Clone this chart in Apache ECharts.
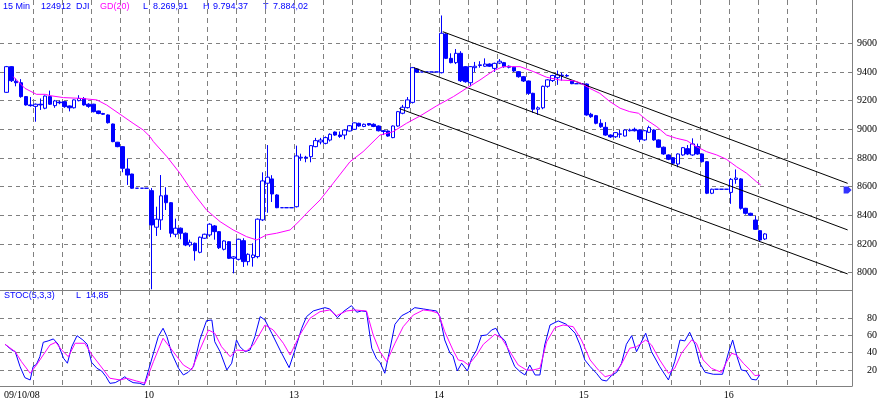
<!DOCTYPE html>
<html><head><meta charset="utf-8">
<script src="https://cdn.jsdelivr.net/npm/echarts@6/dist/echarts.min.js"></script>
<style>html,body{margin:0;padding:0;background:#fff}#c{width:882px;height:404px}</style>
</head><body><div id="c"></div>
<script>
// ---------- DATA ----------
const dayLabels = ['09/10/08', '10', '13', '14', '15', '16'];
const dayStarts = [0, 30, 60, 90, 120, 150];
const timeGrid = [6,12,18,24,30,36,42,48,54,60,66,72,78,84,90,96,102,108,114,120,126,132,138,144,150,156,162,168];
const priceTicks = [8000, 8200, 8400, 8600, 8800, 9000, 9200, 9400, 9600];
const stochTicks = [20, 40, 60, 80];

const opens = [
 9258,9437,9335,9325,9228,9170,9160,9175,9147,9228,9165,9190,9193,9163,9150,9200,9215,9175,9175,9128,9110,9100,9037,8910,8879,8723,8688,8589,8589,8589,
 8572,8317,8368,8540,8488,8268,8310,8275,8193,8205,8142,8240,8263,8326,8286,8163,8216,8100,8093,8223,8077,8105,8112,8368,8624,8654,8542,8453,8453,8453,
 8460,8800,8805,8809,8879,8912,8902,8925,8981,8960,8960,8988,9000,9042,9020,9040,9035,9023,8990,8988,8942,9023,9112,9151,9188,9421,9400,9400,9400,9400,
 9395,9665,9495,9465,9530,9437,9325,9430,9445,9440,9455,9425,9462,9465,9440,9433,9402,9367,9337,9251,9140,9150,9300,9340,9360,9378,9375,9335,9318,9318,
 9316,9105,9095,9042,9014,8960,8948,8965,8953,8990,9000,8995,8926,8979,8995,8926,8875,8821,8802,8758,8821,8865,8821,8880,8828,8774,8554,8582,8582,8582,
 8560,8650,8654,8449,8414,8367,8293,8235
];
const closes = [
 9437,9339,9325,9228,9170,9165,9175,9170,9232,9175,9198,9185,9158,9150,9205,9215,9170,9160,9123,9110,9105,9046,8914,8879,8728,8681,8589,8589,8589,8589,
 8333,8373,8536,8488,8275,8310,8275,8193,8212,8153,8247,8268,8338,8286,8174,8221,8100,8110,8233,8077,8128,8123,8373,8640,8666,8549,8453,8453,8453,8453,
 8814,8805,8800,8886,8921,8925,8942,8965,8960,8950,8995,9025,9045,9023,9035,9030,9020,8990,8985,8953,9023,9123,9154,9205,9430,9398,9400,9400,9400,9400,
 9670,9495,9465,9530,9339,9332,9437,9440,9450,9455,9440,9460,9475,9437,9433,9407,9367,9337,9251,9140,9150,9300,9345,9375,9380,9375,9372,9318,9318,9318,
 9100,9088,9042,9018,8960,8947,8977,8968,8995,8995,8990,8930,8990,9012,8926,8875,8828,8791,8763,8828,8872,8828,8898,8828,8774,8554,8582,8582,8582,8582,
 8651,8660,8449,8414,8400,8302,8228,8270
];
const lows = [
 9255,9330,9300,9220,9165,9158,9053,9135,9140,9170,9150,9175,9150,9125,9145,9195,9165,9150,9118,9105,9100,9040,8910,8875,8700,8612,8585,8589,8589,8589,
 7884,8256,8298,8437,8247,8247,8233,8185,8180,8084,8135,8235,8250,8230,8165,8155,8095,7995,8085,8040,8050,8042,8100,8360,8418,8493,8450,8453,8453,8453,
 8455,8780,8770,8770,8875,8895,8895,8915,8955,8940,8930,8985,8995,9018,9015,9025,9015,8985,8960,8948,8938,9018,9105,9145,9180,9395,9400,9400,9400,9400,
 9390,9490,9460,9455,9330,9325,9300,9400,9430,9435,9435,9400,9455,9430,9425,9400,9360,9330,9240,9115,9100,9140,9290,9330,9310,9340,9365,9315,9318,9318,
 9095,9080,9035,9010,8955,8940,8940,8940,8950,8985,8985,8910,8920,8975,8920,8870,8822,8785,8755,8735,8815,8820,8815,8822,8768,8548,8548,8582,8582,8582,
 8480,8620,8440,8405,8395,8298,8220,8228
];
const highs = [
 9442,9440,9355,9350,9232,9225,9180,9215,9236,9270,9205,9200,9196,9166,9208,9238,9225,9182,9178,9130,9115,9104,9040,8912,8882,8797,8690,8589,8589,8589,
 8590,8460,8681,8596,8492,8377,8315,8280,8230,8210,8252,8272,8345,8332,8290,8226,8220,8115,8237,8240,8135,8205,8378,8700,8890,8680,8548,8453,8453,8453,
 8886,8830,8815,8890,8940,8940,8950,8972,8985,8985,9000,9030,9048,9046,9040,9044,9042,9027,8995,8992,9027,9128,9170,9225,9435,9425,9400,9400,9400,9400,
 9794,9670,9530,9560,9545,9440,9440,9470,9475,9495,9460,9465,9490,9470,9445,9437,9406,9372,9340,9255,9160,9305,9350,9380,9410,9395,9385,9338,9318,9318,
 9320,9115,9100,9070,9050,8965,8980,8995,9000,9005,9012,9000,8995,9025,9000,8930,8880,8825,8806,8832,8876,8890,8937,8900,8832,8778,8586,8582,8582,8582,
 8660,8720,8660,8452,8418,8395,8296,8275
];

// GD(20) moving average, read as [bar, value]
const maPoints = [
 [1.9,9367],[4.3,9286],[6.7,9244],[8.5,9244],[9.5,9235],[12.3,9221],[15.7,9216],[19.2,9205],[21.2,9170],[24.0,9105],[26.7,9042],[28.8,8995],[30.2,8949],[30.9,8914],
 [33.7,8809],[36.4,8693],[39.2,8554],[41.9,8437],[44.7,8356],[47.4,8298],[50.2,8251],[52.3,8228],[54.3,8263],[56.4,8275],[59.2,8298],[61.2,8363],[62.6,8414],
 [65.4,8507],[68.1,8623],[71.6,8774],[74.3,8844],[77.8,8960],[80.5,8983],[83.3,9042],[86.1,9093],[89.5,9163],[93.0,9228],[95.7,9286],[98.5,9344],[101.2,9407],
 [103.3,9437],[106.8,9437],[109.6,9402],[112.3,9363],[115.0,9344],[117.8,9339],[119.2,9325],[121.2,9286],[123.3,9251],[125.4,9193],[127.5,9147],[129.5,9123],
 [131.3,9112],[133.0,9065],[135.1,9018],[137.1,8960],[139.2,8937],[141.3,8921],[143.3,8879],[145.4,8844],[147.5,8821],[149.5,8791],[151.6,8739],[153.7,8693],
 [155.7,8635],[156.6,8612]
];

// trend channel, [bar, price] end points
const channelUpper = [[90.8, 9681], [174.6, 8623]];
const channelMiddle = [[84.8, 9430], [174.6, 8298]];
const channelLower = [[81.8, 9145], [174.6, 7991]];
const lastMarker = [[174.6, 8577]];

// STOC(5,3,3), read as [bar, value]
const stochK = [
 [0.2,49.8],[1.6,43.2],[2.3,41.2],[3.3,23.9],[4.3,11.1],[5.4,8.4],[6.0,23.9],[6.7,26.6],[7.4,35.4],[8.1,52.1],[9.1,53.7],[10.2,56],[11.2,49.8],[12.3,33.6],
 [13.1,27.8],[14.0,47],[15.1,59.8],[16.3,54.8],[17.2,49.8],[18.1,28.9],[19.2,22],[20.2,18.8],[21.1,12.2],[21.9,4.5],[23.0,5.3],[24.0,8.4],[25.0,12.2],[25.7,8.4],
 [26.7,5.3],[28.1,4.5],[29.0,2.6],[29.8,18],[31.0,41.2],[31.9,58.6],[32.9,68.4],[33.7,58.6],[34.7,39.4],[36.1,22],[37.1,14.2],[38.1,17.3],[39.2,23.9],[40.5,54.8],
 [41.9,77.2],[43.0,78],[43.6,52.8],[44.7,41.2],[46.1,20],[47.1,27.8],[48.1,54.8],[48.8,47],[49.9,41.2],[50.9,43.2],[51.9,58.6],[53.0,81.9],[54.0,78],[55.4,62.6],
 [57.1,43.2],[59.0,22.7],[60.2,43.2],[61.6,68.4],[62.6,81.9],[64.0,88.5],[65.4,90.8],[66.4,92.3],[67.4,90.8],[69.0,80.7],[70.2,87.7],[71.9,94.6],[73.0,87],
 [74.0,88.5],[75.0,87.7],[76.1,45.2],[77.1,32.8],[77.8,28.9],[78.8,16.2],[79.9,45.2],[80.9,73],[82.3,83],[83.7,87],[85.0,92.3],[86.8,90.8],[88.1,89.6],[89.5,88.5],
 [90.2,81.9],[91.2,54.8],[92.3,39.4],[92.9,36.6],[93.8,18.8],[94.7,27.8],[95.9,18.8],[96.8,33.6],[97.8,43.2],[98.8,59.8],[99.9,60.6],[100.9,66.4],[101.8,68.4],
 [102.6,59.8],[103.7,53.7],[104.7,37.4],[105.7,23.9],[106.8,18],[107.8,14.2],[108.8,25.8],[109.9,14.2],[110.9,14.2],[111.9,49],[113.0,72.2],[114.7,76.9],
 [116.4,73],[118.2,62.6],[119.2,49],[120.2,31.6],[121.3,23.9],[122.6,16.2],[123.7,8.4],[124.7,7.2],[125.7,13.4],[126.8,17.3],[127.8,27.8],[128.8,49.8],
 [129.9,59.8],[130.9,41.2],[132.8,62.6],[134.0,41.2],[135.7,23.9],[137.5,8.4],[138.8,29.6],[139.9,54.8],[140.9,53.7],[141.9,63.8],[143.0,49.8],[144.0,27.8],
 [145.1,17.3],[146.8,15],[148.7,15],[149.9,39.4],[150.8,54.8],[151.7,35.4],[152.6,20],[153.6,18.8],[154.7,9.2],[155.7,8.4],[156.4,14.2]
];
const stochD = [
 [0.2,49.8],[2.3,41.2],[3.6,29.6],[5.4,16.2],[6.7,25.8],[8.1,37.4],[9.5,49],[10.7,52.1],[11.9,43.2],[13.3,35.4],[14.7,51],[16.7,51],[18.1,38.2],[19.8,25.8],
 [21.9,10.4],[24.0,8.4],[25.4,10.4],[27.4,7.2],[29.2,4.5],[30.9,29.6],[32.9,56.8],[35.0,41.2],[37.1,25.8],[38.8,20],[40.5,43.2],[42.3,66.4],[43.6,62.6],
 [45.0,47],[46.8,35.4],[48.1,43.2],[50.2,42.1],[51.6,49],[54.0,72.2],[55.7,66.4],[57.8,51],[59.2,37.4],[61.2,60.6],[63.3,80],[65.4,87.7],[67.4,89.6],[68.8,83],
 [70.9,88.5],[72.6,89.6],[75.0,88.5],[76.4,60.6],[77.8,41.2],[79.2,29.6],[80.9,51],[82.6,70.2],[84.7,83.8],[86.8,89.6],[88.4,88.5],[89.9,85.8],[91.2,64.5],
 [92.9,43.2],[94.0,31.6],[95.0,30.4],[96.1,25.8],[97.8,37.4],[99.2,49.8],[101.6,61.4],[103.0,56.8],[104.7,41.2],[106.4,25.8],[108.1,20],[109.5,20],[110.9,21.9],
 [112.3,52.8],[114.0,69.1],[115.7,72.2],[117.8,70.2],[119.5,54.8],[121.3,31.6],[123.0,20],[124.4,12.2],[125.7,14.2],[127.5,23.9],[129.5,45.2],[130.9,47],
 [132.8,54.8],[134.0,49],[135.7,31.6],[137.5,16.2],[138.8,21.9],[140.2,39.4],[142.3,54.8],[143.3,51],[144.7,31.6],[146.4,21.9],[148.5,17.3],[149.5,28.9],
 [150.6,39.4],[151.6,37.4],[153.0,27.8],[154.4,20],[155.4,13.4],[156.4,14.2]
];

const headerTexts = ['15 Min', '124912', 'DJI', 'GD(20)', 'L', '8.269,91', 'H', '9.794,37', 'T', '7.884,02'];
const stochTexts = ['STOC(5,3,3)', 'L', '14,85'];

// ---------- LAYOUT / STYLE ----------
const BLUE = '#0000ff', MAG = '#ff00ff', GRIDC = '#808080';
const headerX = [3, 41, 76, 100, 143, 153, 203, 213, 263, 273];
const headerColors = [BLUE, BLUE, BLUE, MAG, BLUE, BLUE, BLUE, BLUE, BLUE, BLUE];
const stochX = [4, 76, 86];
const SANS = '9px "Liberation Sans", Arial, sans-serif';
const SERIF = '"Liberation Serif", "Times New Roman", serif';

const candles = opens.map((o, i) => [i + 0.5, o, closes[i], lows[i], highs[i]]);

const dashH = {show: true, lineStyle: {color: GRIDC, width: 1, type: [4, 4]}};
const dashV = {show: true, lineStyle: {color: GRIDC, width: 1, type: [5, 4]}};
const axLine = {show: true, onZero: false, lineStyle: {color: GRIDC, width: 1}};

const chart = echarts.init(document.getElementById('c'), null, {renderer: 'canvas'});
const graphics = [];
headerTexts.forEach((t, i) => graphics.push({type: 'text', x: headerX[i], y: 7, silent: true,
  style: {text: t, fill: headerColors[i], font: SANS, verticalAlign: 'middle'}}));
stochTexts.forEach((t, i) => graphics.push({type: 'text', x: stochX[i], y: 296, silent: true,
  style: {text: t, fill: BLUE, font: SANS, verticalAlign: 'middle'}}));

chart.setOption({
  animation: false,
  backgroundColor: '#ffffff',
  grid: [
    {left: 0, right: 30, top: 0, height: 290},
    {left: 0, right: 30, top: 290, height: 96}
  ],
  xAxis: [
    {type: 'value', gridIndex: 0, min: -0.85, max: 175.5, position: 'bottom',
     axisLine: axLine, axisTick: {show: false, customValues: timeGrid}, axisLabel: {show: false, customValues: timeGrid},
     splitLine: dashV},
    {type: 'value', gridIndex: 1, min: -0.85, max: 175.5, position: 'bottom',
     axisLine: axLine, axisTick: {show: false, customValues: timeGrid},
     axisLabel: {show: true, customValues: dayStarts, color: '#000', fontFamily: SERIF, fontSize: 10, margin: 4,
       alignMinLabel: 'left', formatter: v => dayLabels[dayStarts.indexOf(Math.round(v))]},
     splitLine: dashV}
  ],
  yAxis: [
    {type: 'value', gridIndex: 0, min: 7879, max: 9902, position: 'right',
     axisLine: axLine, axisTick: {show: false, customValues: priceTicks},
     axisLabel: {customValues: priceTicks, color: '#000', fontFamily: SERIF, fontSize: 10, align: 'right', margin: 25,
       formatter: v => String(Math.round(v))},
     splitLine: dashH},
    {type: 'value', gridIndex: 1, min: 1.4, max: 112.8, position: 'right',
     axisLine: axLine, axisTick: {show: false, customValues: stochTicks},
     axisLabel: {customValues: stochTicks, color: '#000', fontFamily: SERIF, fontSize: 10, align: 'right', margin: 25,
       formatter: v => String(Math.round(v))},
     splitLine: dashH}
  ],
  graphic: graphics,
  series: [
    {type: 'line', name: 'chU', xAxisIndex: 0, yAxisIndex: 0, data: channelUpper, symbol: 'none', silent: true,
     lineStyle: {color: '#000', width: 1}},
    {type: 'line', name: 'chM', xAxisIndex: 0, yAxisIndex: 0, data: channelMiddle, symbol: 'none', silent: true,
     lineStyle: {color: '#000', width: 1}},
    {type: 'line', name: 'chL', xAxisIndex: 0, yAxisIndex: 0, data: channelLower, symbol: 'none', silent: true,
     lineStyle: {color: '#000', width: 1}},
    {type: 'line', name: 'GD20', xAxisIndex: 0, yAxisIndex: 0, data: maPoints, symbol: 'none', silent: true,
     lineStyle: {color: MAG, width: 1}},
    {type: 'candlestick', name: 'DJI', xAxisIndex: 0, yAxisIndex: 0, data: candles, encode: {x: 0, y: [1, 2, 3, 4]},
     barWidth: 4, silent: true,
     itemStyle: {color: '#ffffff', color0: BLUE, borderColor: BLUE, borderColor0: BLUE, borderWidth: 1}},
    {type: 'scatter', name: 'last', xAxisIndex: 0, yAxisIndex: 0, data: lastMarker, silent: true,
     symbol: 'path://M0,0 L5,0 L9,4 L5,8 L0,8 Z', symbolSize: [8, 7], itemStyle: {color: BLUE}},
    {type: 'line', name: 'K', xAxisIndex: 1, yAxisIndex: 1, data: stochK, symbol: 'none', silent: true,
     lineStyle: {color: BLUE, width: 1}},
    {type: 'line', name: 'D', xAxisIndex: 1, yAxisIndex: 1, data: stochD, symbol: 'none', silent: true,
     lineStyle: {color: MAG, width: 1}}
  ]
});
</script>
</body></html>
